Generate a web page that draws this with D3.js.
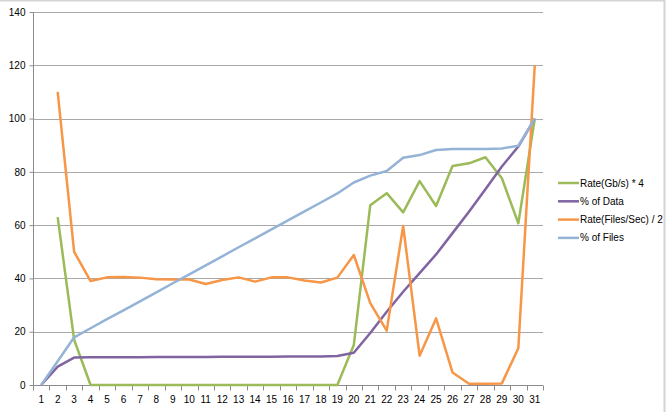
<!DOCTYPE html>
<html><head><meta charset="utf-8">
<script src="https://cdn.jsdelivr.net/npm/d3@7"></script>
<style>body{margin:0;background:#fff}svg{display:block}</style>
</head><body>
<script>
const categories = d3.range(1, 32).map(String);
const rateGb = [null,63,17,0,0,0,0,0,0,0,0,0,0,0,0,0,0,0,0,15,67.5,72,64.8,76.5,67.2,82.2,83.2,85.5,77.6,60.7,100];
const pctData = [0,6.9,10.3,10.4,10.4,10.4,10.4,10.5,10.5,10.5,10.5,10.6,10.6,10.6,10.6,10.7,10.7,10.7,10.9,12.1,19.5,27.5,35,42,49,57,65,73.5,82,89.5,100];
const rateFiles = [null,110,50,39,40.4,40.5,40.3,39.7,39.6,39.6,37.9,39.4,40.4,38.8,40.4,40.4,39.2,38.5,40.3,48.8,30.7,20.4,59.7,11,25,4.7,0.5,0.5,0.6,13.8,120];
const pctFiles = [0,8.9,17.9,21.3,24.7,28,31.4,34.8,38.2,41.5,44.9,48.3,51.7,55,58.4,61.8,65.2,68.5,71.9,76,78.6,80.3,85.3,86.3,88.2,88.6,88.6,88.6,88.8,89.8,100];
const yTicks = [0,20,40,60,80,100,120,140];
const seriesNames = ["Rate(Gb/s) * 4","% of Data","Rate(Files/Sec) / 2","% of Files"];
const seriesColors = ["#9bbb59","#8064a2","#f79646","#95b3d7"];

const W = 666, H = 412;
const svg = d3.select("body").append("svg").attr("width", W).attr("height", H);
const pL = 33, pR = 543, pT = 12, pB = 385;

// outer frame lines
svg.append("line").attr("x1",0).attr("x2",664).attr("y1",0.5).attr("y2",0.5).attr("stroke","#d4d4d4").attr("stroke-width",2);
svg.append("line").attr("x1",664.5).attr("x2",664.5).attr("y1",0).attr("y2",H).attr("stroke","#d4d4d4").attr("stroke-width",2);

const x = d3.scaleBand().domain(categories).range([pL, pR]).padding(0);
const xc = c => x(c) + x.bandwidth()/2;
const y = d3.scaleLinear().domain([0,140]).range([pB, pT]);

// gridlines
svg.append("g").selectAll("line").data(yTicks.filter(t=>t>0)).join("line")
  .attr("x1", pL).attr("x2", pR)
  .attr("y1", d=>Math.round(y(d))+0.5).attr("y2", d=>Math.round(y(d))+0.5)
  .attr("stroke","#a9a9a9").attr("stroke-width",1.2);

// y axis
const yAxis = d3.axisLeft(y).tickValues(yTicks).tickSize(4).tickPadding(4);
const ya = svg.append("g").attr("transform",`translate(${pL+0.5},0)`).call(yAxis);
ya.select(".domain").attr("stroke","#8c8c8c").attr("d",`M0,${pT}V${pB}`);
ya.selectAll(".tick line").attr("stroke","#8c8c8c");
ya.selectAll("text").attr("font-family","Liberation Sans, Arial, sans-serif").attr("font-size",10).attr("fill","#000");

// x axis
const xAxis = d3.axisBottom(x).tickSize(0).tickPadding(10);
const xa = svg.append("g").attr("transform",`translate(0,${pB+0.5})`).call(xAxis);
xa.select(".domain").attr("stroke","#8c8c8c").attr("d",`M${pL},0H${pR}`);
xa.selectAll("text").attr("font-family","Liberation Sans, Arial, sans-serif").attr("font-size",10).attr("fill","#000");
xa.selectAll("line.btick").data(categories.concat(["end"])).join("line")
  .attr("class","btick")
  .attr("x1", d=> Math.round(d==="end" ? pR : x(d))+0.5)
  .attr("x2", d=> Math.round(d==="end" ? pR : x(d))+0.5)
  .attr("y1",0).attr("y2",5).attr("stroke","#8c8c8c");

const allSeries = [rateGb, pctData, rateFiles, pctFiles];
const line = d3.line().defined(d=>d.v!=null).x(d=>xc(d.c)).y(d=>y(d.v));
allSeries.forEach((vals,i)=>{
  const pts = categories.map((c,j)=>({c, v: vals[j]}));
  svg.append("path").datum(pts).attr("d", line)
    .attr("fill","none").attr("stroke", seriesColors[i]).attr("stroke-width",2.5)
    .attr("stroke-linejoin","round");
});

// legend
const lg = svg.append("g").attr("transform","translate(558,183)");
seriesNames.forEach((n,i)=>{
  const yy = i*18.3;
  lg.append("line").attr("x1",0).attr("x2",21).attr("y1",yy).attr("y2",yy)
    .attr("stroke",seriesColors[i]).attr("stroke-width",2.5);
  lg.append("text").attr("x",22).attr("y",yy+3.5).text(n)
    .attr("font-family","Liberation Sans, Arial, sans-serif").attr("font-size",10).attr("fill","#000");
});
</script>
</body></html>
